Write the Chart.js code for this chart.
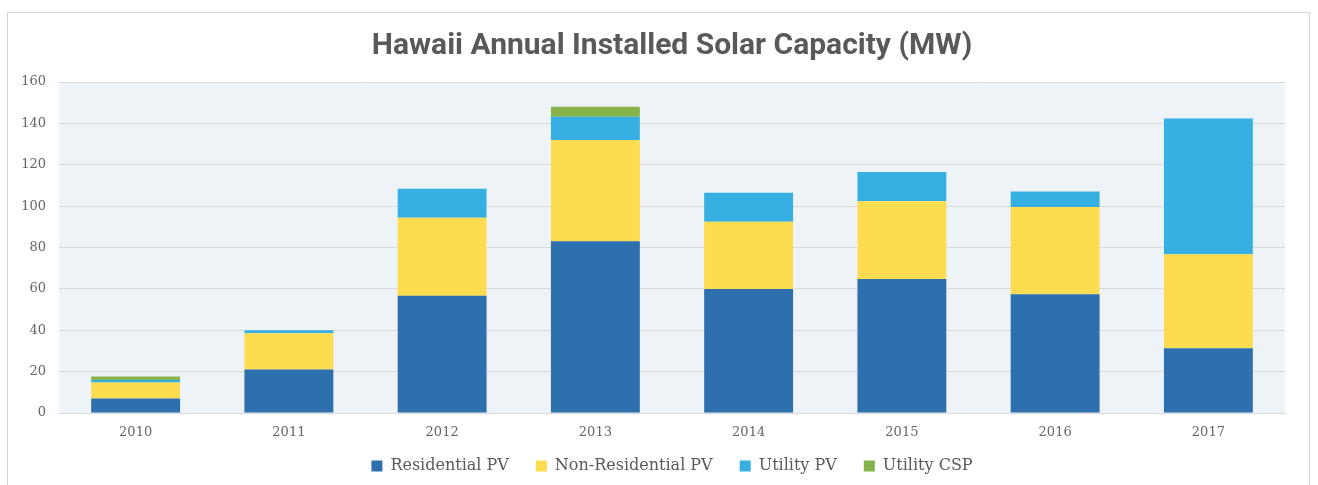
<!DOCTYPE html>
<html>
<head>
<meta charset="utf-8">
<script src="https://cdn.jsdelivr.net/npm/chart.js@4"></script>
<style>
  html, body { margin: 0; padding: 0; background: #fff; overflow: hidden; }
  #frame {
    position: absolute; left: 7px; top: 12px;
    width: 1303px; height: 500px;
    border: 1px solid #d4d4d4; box-sizing: border-box;
  }
  #wrap { position: absolute; left: 0; top: 0; width: 1301px; height: 481px; }
</style>
</head>
<body>
<div id="frame"><div id="wrap"><canvas id="solar"></canvas></div></div>
<script>
const years = ['2010', '2011', '2012', '2013', '2014', '2015', '2016', '2017'];
const residentialPV = [7, 21, 56.7, 83, 60, 64.8, 57.4, 31.3];
const nonResidentialPV = [7.7, 17.5, 37.7, 49, 32.5, 37.5, 42.2, 45.4];
const utilityPV = [1.2, 1.5, 14, 11.2, 14, 14.2, 7.5, 65.7];
const utilityCSP = [1.8, 0, 0, 4.8, 0, 0, 0, 0];
const yTicks = [0, 20, 40, 60, 80, 100, 120, 140, 160];

const plotBackground = {
  id: 'plotBackground',
  beforeDraw(chart) {
    const { ctx, chartArea } = chart;
    ctx.save();
    ctx.fillStyle = '#eef3f7';
    ctx.fillRect(chartArea.left, chartArea.top, chartArea.right - chartArea.left, chartArea.bottom - chartArea.top);
    ctx.restore();
  },
};

// pull the legend a little closer to the axis labels
const legendNudge = {
  id: 'legendNudge',
  afterLayout(chart) {
    const lg = chart.legend;
    if (!lg) return;
    lg.top -= 10;
    lg.bottom -= 10;
  },
};

function makeSet(label, data, color) {
  return {
    label,
    data,
    backgroundColor: color,
    borderWidth: 0,
    categoryPercentage: 1,
    barPercentage: 0.58,
  };
}

const ctx = document.getElementById('solar').getContext('2d');
new Chart(ctx, {
  type: 'bar',
  data: {
    labels: years,
    datasets: [
      makeSet('Residential PV', residentialPV, '#2e6fad'),
      makeSet('Non-Residential PV', nonResidentialPV, '#fddd4f'),
      makeSet('Utility PV', utilityPV, '#36b0e3'),
      makeSet('Utility CSP', utilityCSP, '#86b34a'),
    ],
  },
  options: {
    responsive: true,
    maintainAspectRatio: false,
    animation: false,
    layout: { padding: { left: 13, right: 24, top: 0, bottom: 0 } },
    scales: {
      x: {
        stacked: true,
        grid: { display: false, drawTicks: false },
        border: { display: true, color: '#d9d9d9' },
        ticks: { color: '#666', font: { family: 'DejaVu Serif', size: 13 }, padding: 12 },
        afterFit(scale) { scale.height = 28; },
      },
      y: {
        stacked: true,
        min: 0,
        max: 160,
        afterBuildTicks(axis) { axis.ticks = yTicks.map(v => ({ value: v })); },
        grid: { color: '#d9d9d9', lineWidth: 1, drawTicks: false },
        border: { display: false },
        ticks: { color: '#666', font: { family: 'DejaVu Serif', size: 13 }, padding: 13 },
        afterFit(scale) { scale.width = 38; },
      },
    },
    plugins: {
      title: {
        display: true,
        fullSize: false,
        text: 'Hawaii Annual Installed Solar Capacity (MW)',
        color: '#595959',
        font: { family: 'Roboto', size: 30, weight: 'bold' },
        padding: { top: 15, bottom: 18 },
      },
      legend: {
        position: 'bottom',
        fullSize: false,
        labels: {
          color: '#595959',
          font: { family: 'DejaVu Serif', size: 16 },
          boxWidth: 11,
          boxHeight: 11,
          padding: 27,
        },
      },
      tooltip: { enabled: false },
    },
  },
  plugins: [plotBackground, legendNudge],
});
</script>
</body>
</html>
